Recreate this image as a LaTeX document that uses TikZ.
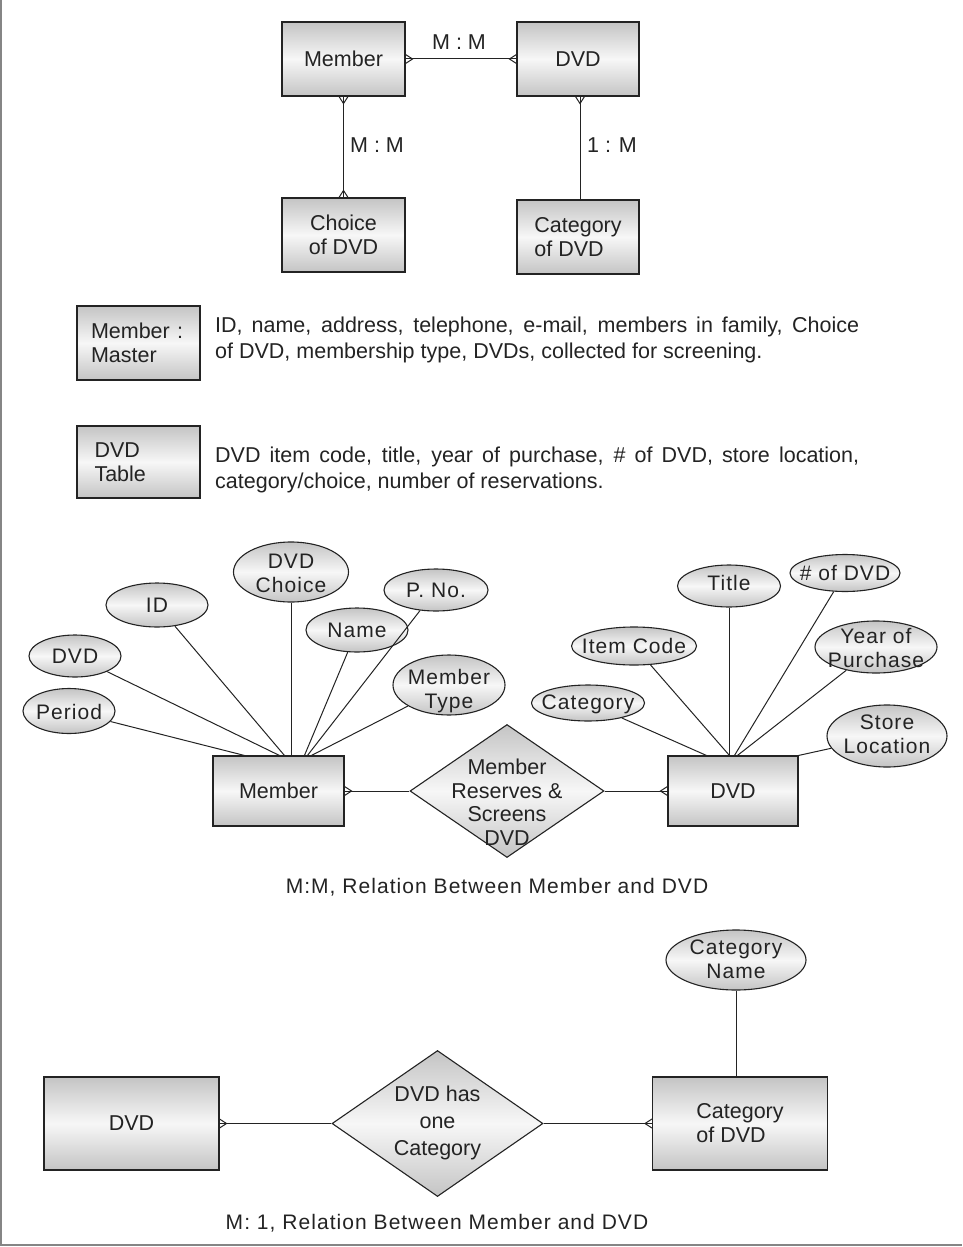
\documentclass[tikz,border=0pt]{standalone}
\usepackage{fontspec}
\setmainfont{Liberation Sans}
\newfontfamily\trackedfont[LetterSpace=5]{Liberation Sans}
\usetikzlibrary{shapes.geometric,calc}

\definecolor{ink}{HTML}{232323}
\definecolor{shadeedge}{HTML}{C4C4C4}
\definecolor{shademid}{HTML}{F7F7F7}
\definecolor{framegray}{HTML}{858585}

\tikzset{
  every node/.style={font=\fontsize{21.5}{24}\selectfont, text=ink},
  entity/.style={draw=ink, line width=1.1pt, top color=shadeedge,
    bottom color=shadeedge, middle color=shademid, inner sep=0pt, align=center},
  attrshape/.style={entity, ellipse},
  relshape/.style={entity, diamond},
  conn/.style={draw=ink, line width=1pt},
  lbl/.style={align=center, inner sep=0pt},
  tracked/.style={font=\trackedfont\fontsize{21}{26}\selectfont, inner sep=0pt},
  para/.style={font=\fontsize{21.5}{26}\selectfont, inner sep=0pt,
    text width=644, align=justify},
  attrtext/.style={lbl, font=\trackedfont\fontsize{21}{24}\selectfont},
}

% attribute ellipse: name, position, width, height, text, text position
\newcommand\erattr[6]{%
  \node[attrshape, minimum width=#3, minimum height=#4] (#1) at (#2) {};
  \node[attrtext] (#1-t) at (#6) {#5};}

% crow's feet at a box edge, opening towards the box
\newcommand\footE[1]{\draw[conn] ([yshift=4.5pt]#1) -- ([xshift=7pt]#1) -- ([yshift=-4.5pt]#1);}
\newcommand\footW[1]{\draw[conn] ([yshift=4.5pt]#1) -- ([xshift=-7pt]#1) -- ([yshift=-4.5pt]#1);}
\newcommand\footS[1]{\draw[conn] ([xshift=4.5pt]#1) -- ([yshift=-7pt]#1) -- ([xshift=-4.5pt]#1);}
\newcommand\footN[1]{\draw[conn] ([xshift=4.5pt]#1) -- ([yshift=7pt]#1) -- ([xshift=-4.5pt]#1);}

\begin{document}
\begin{tikzpicture}[x=1pt, y=-1pt]
\useasboundingbox (0,0) rectangle (962,1247);

% page frame
\draw[framegray, line width=2pt] (1,0) -- (1,1245) -- (962,1245);

% ---------- overview of entities ----------
\node[entity, minimum width=123, minimum height=74] (m1) at (343.5,59) {Member};
\node[entity, minimum width=122, minimum height=74] (d1) at (578,59) {DVD};
\node[entity, minimum width=123, minimum height=74] (c1) at (343.5,235) {Choice\\of DVD};
\node[entity, minimum width=122, minimum height=74, align=left] (k1) at (578,237) {Category\\of DVD};

\draw[conn] (m1) -- (d1);
\draw[conn] (m1) -- (c1.north);
\draw[conn] (d1.south -| 580,0) -- (k1.north -| 580,0);
\footE{m1.east} \footW{d1.west}
\footS{m1.south} \footN{c1.north}
\footS{d1.south -| 580,0}

\node[lbl] (l1) at (459,42) {M : M};
\node[lbl] (l2) at (377,145) {M : M};
\node[lbl] (l3) at (612,145) {1 : M};

% ---------- table descriptions ----------
\node[entity, minimum width=123, minimum height=74, text width=95, align=left] (mm) at (138.5,343) {Member :\\Master};
\node[para, anchor=west] (mmtxt) at (215,340)
  {ID, name, address, telephone, e-mail, members in family, Choice\linebreak of DVD, membership type, DVDs, collected for screening.};

\node[entity, minimum width=123, minimum height=72, text width=88, align=left] (dt) at (138.5,462) {DVD\\Table};
\node[para, anchor=west] (dttxt) at (215,470)
  {DVD item code, title, year of purchase, \# of DVD, store location,\linebreak category/choice, number of reservations.};

% ---------- M:M relation ----------
\node[entity, minimum width=131, minimum height=70] (mem) at (278.5,791) {Member};
\node[relshape, minimum width=194, minimum height=133] (rel) at (507,791) {};
\node[lbl, font=\fontsize{21.5}{23.5}\selectfont] (rel-t) at (507,802) {Member\\Reserves \&\\Screens\\DVD};
\node[entity, minimum width=130, minimum height=70] (dvd) at (733,791) {DVD};

\draw[conn] (mem.east) -- (rel.west);
\draw[conn] (rel.east) -- (dvd.west);
\footE{mem.east} \footW{dvd.west}

% member attributes
\erattr{choice}{291,572}{115}{60}{DVD\\Choice}{291,573}
\erattr{id}{157,605}{102}{44}{ID}{157,605}
\erattr{pno}{436,590}{104}{42}{P. No.}{436,590}
\erattr{name}{357,630}{102}{44}{Name}{357,630}
\erattr{dvda}{75,656}{92}{42}{DVD}{75,656}
\erattr{mtype}{449,685}{112}{60}{Member\\Type}{449,691}
\erattr{period}{69,711}{92}{45}{Period}{69,712}

\draw[conn] (period) -- ($(mem.north west)+(32,0)$);
\draw[conn] (dvda) -- ($(mem.north west)+(67,0)$);
\draw[conn] (id) -- ($(mem.north west)+(72,0)$);
\draw[conn] (choice) -- (choice |- mem.north);
\draw[conn] (name) -- ($(mem.north west)+(92,0)$);
\draw[conn] (pno) -- ($(mem.north west)+(95,0)$);
\draw[conn] (mtype) -- ($(mem.north west)+(99,0)$);

% DVD attributes
\erattr{title}{729,586}{103}{42}{Title}{729,583}
\erattr{numdvd}{845,573}{110}{37}{\# of DVD}{845,573}
\erattr{item}{634,646}{125}{38}{Item Code}{634,646}
\erattr{yop}{876,647}{122}{52}{Year of\\Purchase}{876,648}
\erattr{cat}{588,703}{113}{36}{Category}{588,704}
\erattr{store}{887,736}{120}{62}{Store\\Location}{887,734}

\draw[conn] (cat) -- ($(dvd.north west)+(39,0)$);
\draw[conn] (item) -- ($(dvd.north west)+(62,0)$);
\draw[conn] (title) -- (title |- dvd.north);
\draw[conn] (numdvd) -- ($(dvd.north west)+(67,0)$);
\draw[conn] (yop) -- ($(dvd.north west)+(70,0)$);
\draw[conn] (store) -- (dvd.north east);

\node[tracked] (cap1) at (497,887) {M:M, Relation Between Member and DVD};

% ---------- M:1 relation ----------
\node[entity, minimum width=175, minimum height=93] (dvd2) at (131.5,1123.5) {DVD};
\node[relshape, minimum width=211, minimum height=146] (has) at (437.5,1123.5) {};
\node[lbl, font=\fontsize{21.5}{27}\selectfont] (has-t) at (437.5,1123) {DVD has\\one\\Category};
\node[entity, minimum width=175, minimum height=93, align=left] (cat2) at (740,1123.5) {Category\\of DVD};

\draw[conn] (dvd2.east) -- (has.west);
\draw[conn] (has.east) -- (cat2.west);
\footE{dvd2.east} \footW{cat2.west}

\erattr{catname}{736,960}{140}{60}{Category\\Name}{736,959}
\draw[conn] (catname) -- (catname |- cat2.north);

\node[tracked] (cap2) at (437,1223) {M: 1, Relation Between Member and DVD};
\end{tikzpicture}
\end{document}
